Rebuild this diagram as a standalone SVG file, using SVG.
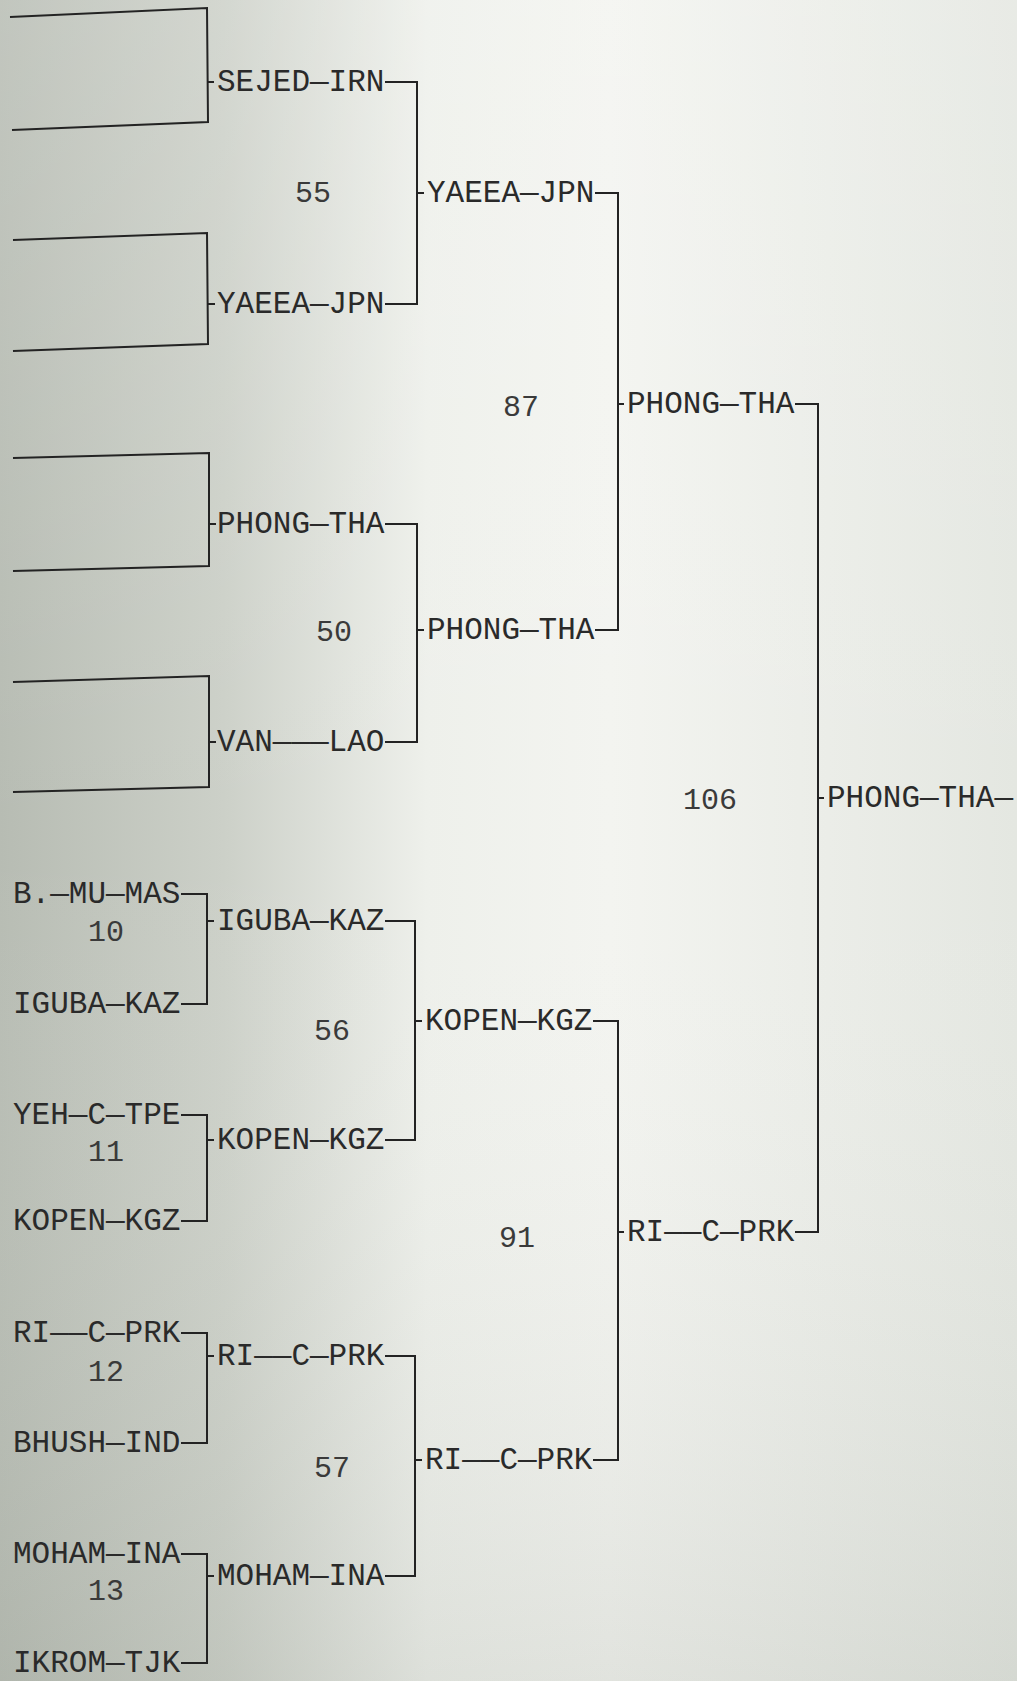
<svg xmlns="http://www.w3.org/2000/svg" width="1017" height="1681" viewBox="0 0 1017 1681">
<defs>
<linearGradient id="bg" x1="0" y1="0" x2="1" y2="0">
<stop offset="0" stop-color="#b7bcb3"/>
<stop offset="0.22" stop-color="#ccd0c8"/>
<stop offset="0.42" stop-color="#eef0eb"/>
<stop offset="0.6" stop-color="#f3f4f0"/>
<stop offset="1" stop-color="#e4e7e1"/>
</linearGradient>
<linearGradient id="shade" x1="0" y1="0" x2="0" y2="1">
<stop offset="0" stop-color="#ffffff" stop-opacity="0.15"/>
<stop offset="0.5" stop-color="#ffffff" stop-opacity="0"/>
<stop offset="1" stop-color="#8f968c" stop-opacity="0.18"/>
</linearGradient>
<style>
.t{font-family:"Liberation Mono","Courier New",monospace;font-size:31px;fill:#2a2a2a}
.n{font-family:"Liberation Mono","Courier New",monospace;font-size:30px;fill:#3a3a3a}
.c{fill:none;stroke:#232323;stroke-width:2}
</style>
</defs>
<rect width="1017" height="1681" fill="url(#bg)"/>
<rect width="1017" height="1681" fill="url(#shade)"/>

<g id="connectors" class="c">
<polyline points="10,17 207,8 208,122 12,130"/>
<polyline points="13,240 207,233 208,344 13,351"/>
<polyline points="13,458 209,453 209,566 13,571"/>
<polyline points="13,682 209,676 209,787 13,792"/>
<path d="M207,82 H214 M208,304 H215 M209,524 H216 M209,742 H216"/>
<path d="M385,82 H417 V304 H385 M417,193 H424"/>
<path d="M385,524 H417 V742 H385 M417,630 H424"/>
<path d="M595,193 H618 V630 H595 M618,404 H624"/>
<path d="M795,404 H818 V1232 H795 M818,798 H824"/>
<path d="M181,894 H207 V1004 H181 M207,921 H214"/>
<path d="M181,1115 H207 V1221 H181 M207,1140 H214"/>
<path d="M181,1333 H207 V1443 H181 M207,1356 H214"/>
<path d="M181,1554 H207 V1663 H181 M207,1576 H214"/>
<path d="M385,921 H415 V1140 H385 M415,1021 H422"/>
<path d="M385,1356 H415 V1576 H385 M415,1460 H422"/>
<path d="M593,1021 H618 V1460 H593 M618,1232 H624"/>
</g>

<g id="r1-sejed"><text class="t" x="217" y="91">SEJED—IRN</text></g>
<g id="r1-yaeea"><text class="t" x="217" y="313">YAEEA—JPN</text></g>
<g id="r1-phong"><text class="t" x="217" y="533">PHONG—THA</text></g>
<g id="r1-van"><text class="t" x="217" y="751">VAN———LAO</text></g>
<g id="r2-yaeea"><text class="t" x="427" y="202">YAEEA—JPN</text></g>
<g id="r2-phong"><text class="t" x="427" y="639">PHONG—THA</text></g>
<g id="r3-phong"><text class="t" x="627" y="413">PHONG—THA</text></g>
<g id="final-phong"><text class="t" x="827" y="807">PHONG—THA—</text></g>
<g id="r3-ri"><text class="t" x="627" y="1241">RI——C—PRK</text></g>

<g id="r0-bmu"><text class="t" x="13" y="903">B.—MU—MAS</text></g>
<g id="r0-iguba"><text class="t" x="13" y="1013">IGUBA—KAZ</text></g>
<g id="r0-yeh"><text class="t" x="13" y="1124">YEH—C—TPE</text></g>
<g id="r0-kopen"><text class="t" x="13" y="1230">KOPEN—KGZ</text></g>
<g id="r0-ri"><text class="t" x="13" y="1342">RI——C—PRK</text></g>
<g id="r0-bhush"><text class="t" x="13" y="1452">BHUSH—IND</text></g>
<g id="r0-moham"><text class="t" x="13" y="1563">MOHAM—INA</text></g>
<g id="r0-ikrom"><text class="t" x="13" y="1672">IKROM—TJK</text></g>

<g id="r1-iguba"><text class="t" x="217" y="930">IGUBA—KAZ</text></g>
<g id="r1-kopen"><text class="t" x="217" y="1149">KOPEN—KGZ</text></g>
<g id="r1-ri"><text class="t" x="217" y="1365">RI——C—PRK</text></g>
<g id="r1-moham"><text class="t" x="217" y="1585">MOHAM—INA</text></g>
<g id="r2-kopen"><text class="t" x="425" y="1030">KOPEN—KGZ</text></g>
<g id="r2-ri"><text class="t" x="425" y="1469">RI——C—PRK</text></g>

<g id="match-numbers">
<text class="n" x="295" y="202">55</text>
<text class="n" x="316" y="641">50</text>
<text class="n" x="503" y="416">87</text>
<text class="n" x="683" y="809">106</text>
<text class="n" x="88" y="941">10</text>
<text class="n" x="314" y="1040">56</text>
<text class="n" x="88" y="1161">11</text>
<text class="n" x="499" y="1247">91</text>
<text class="n" x="88" y="1381">12</text>
<text class="n" x="314" y="1477">57</text>
<text class="n" x="88" y="1600">13</text>
</g>
</svg>
